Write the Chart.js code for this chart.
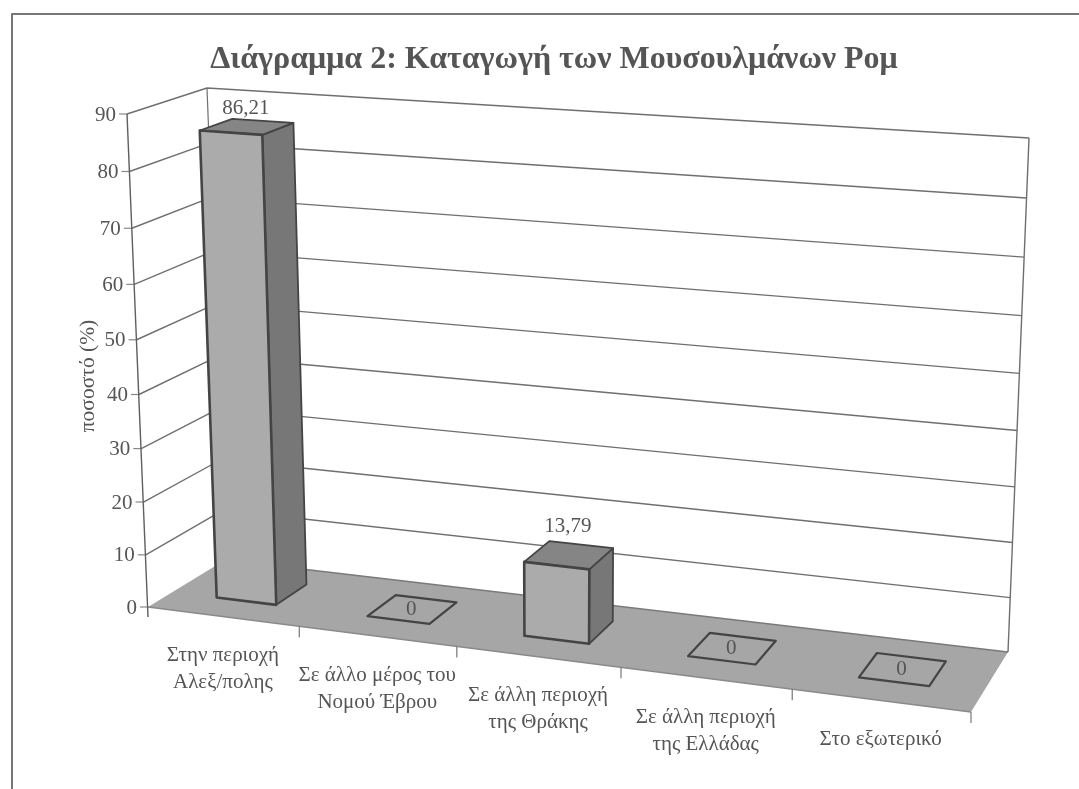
<!DOCTYPE html>
<html lang="el">
<head>
<meta charset="utf-8">
<title>Διάγραμμα 2</title>
<script src="https://cdn.jsdelivr.net/npm/chart.js@4/dist/chart.umd.min.js"></script>
<style>
    html, body { margin: 0; padding: 0; background: #fff; overflow: hidden; }
    canvas { display: block; filter: blur(0.7px); }
</style>
</head>
<body>
<canvas id="chart" width="1079" height="789"></canvas>
<script>
// Chart data
const chartTitle = 'Διάγραμμα 2: Καταγωγή των Μουσουλμάνων Ρομ';
const yAxisTitle = 'ποσοστό (%)';
const categories = [
    ['Στην περιοχή', 'Αλεξ/πολης'],
    ['Σε άλλο μέρος του', 'Νομού Έβρου'],
    ['Σε άλλη περιοχή', 'της Θράκης'],
    ['Σε άλλη περιοχή', 'της Ελλάδας'],
    ['Στο εξωτερικό']
];
const percentages = [86.21, 0, 13.79, 0, 0];
const yMax = 90;
const yStep = 10;

// Box corners on the page, named by [x side][bottom/top][front/back]
const box = {
    lbf: [148, 607], rbf: [971, 712], lbb: [225, 560], rbb: [1008, 652],
    ltf: [127, 114], rtf: [994, 175], ltb: [207, 88], rtb: [1029, 138]
};
const depthFront = 0.32;
const depthBack = 0.74;

const textColor = '#555';
const lineColor = '#6f6f6f';
const darkLine = '#444';
const serif = '"Liberation Serif", serif';
const labelSize = 21;

// Foreshortening of the box along one axis
function warp(a, k) {
    return a / (1 + k * (1 - a));
}

function lerp(p, q, a) {
    return [p[0] + (q[0] - p[0]) * a, p[1] + (q[1] - p[1]) * a];
}

// u, v, z all 0..1 -> page position
function project(u, v, z) {
    const t = warp(u, 0.11);
    const s = warp(v, 0.056);
    const bottomFront = lerp(box.lbf, box.rbf, t);
    const bottomBack = lerp(box.lbb, box.rbb, t);
    const topFront = lerp(box.ltf, box.rtf, t);
    const topBack = lerp(box.ltb, box.rtb, t);
    return lerp(lerp(bottomFront, bottomBack, z), lerp(topFront, topBack, z), s);
}

function poly(ctx, points, fill, stroke, width) {
    ctx.beginPath();
    points.forEach(function(p, i) {
        if (i === 0) ctx.moveTo(p[0], p[1]);
        else ctx.lineTo(p[0], p[1]);
    });
    if (fill) {
        ctx.closePath();
        ctx.fillStyle = fill;
        ctx.fill();
    }
    if (stroke) {
        ctx.strokeStyle = stroke;
        ctx.lineWidth = width;
        ctx.lineJoin = 'round';
        ctx.stroke();
    }
}

function drawText(ctx, text, x, y, size, align) {
    ctx.font = size + 'px ' + serif;
    ctx.fillStyle = textColor;
    ctx.textAlign = align || 'center';
    ctx.textBaseline = 'middle';
    ctx.fillText(text, x, y);
}

const box3d = {
    id: 'box3d',
    beforeDatasetsDraw(chart) {
        const ctx = chart.ctx;
        const area = chart.chartArea;
        const xScale = chart.scales.x;
        const yScale = chart.scales.y;
        const toU = function(px) { return (px - area.left) / area.width; };
        const toV = function(py) { return (area.bottom - py) / area.height; };

        ctx.save();

        // scanned page frame
        poly(ctx, [[12, chart.height], [12, 14], [chart.width, 14]], null, '#777', 2);

        // floor
        poly(ctx, [project(0, 0, 0), project(1, 0, 0), project(1, 0, 1), project(0, 0, 1)], '#a6a6a6', null);
        poly(ctx, [project(0, 0, 0), project(1, 0, 0)], null, '#8a8a8a', 1.5);
        poly(ctx, [project(0, 0, 1), project(1, 0, 1)], null, '#7a7a7a', 1.5);

        // walls and gridlines
        yScale.ticks.forEach(function(tick) {
            const v = toV(yScale.getPixelForValue(tick.value));
            if (tick.value > 0) {
                poly(ctx, [project(0, v, 0), project(0, v, 1), project(1, v, 1)], null, lineColor, 1.4);
            }
            const p = project(0, v, 0);
            poly(ctx, [[p[0] - 8, p[1]], p], null, '#888', 1.2);
            drawText(ctx, String(tick.value), p[0] - 11, p[1] + 1, labelSize, 'right');
        });
        poly(ctx, [project(0, 0, 1), project(0, 1, 1)], null, lineColor, 1.2);
        poly(ctx, [project(1, 0, 1), project(1, 1, 1)], null, lineColor, 1.4);
        const axisFoot = project(0, 0, 0);
        poly(ctx, [[axisFoot[0], axisFoot[1] + 10], project(0, 1, 0)], null, '#5f5f5f', 1.4);

        // category ticks and labels along the front floor edge
        categories.forEach(function(label, i) {
            const tickEnd = project((i + 1) / categories.length, 0, 0);
            poly(ctx, [tickEnd, [tickEnd[0], tickEnd[1] + 11]], null, '#777', 1.2);
            const anchor = project(toU(xScale.getPixelForValue(i)), 0, 0);
            label.forEach(function(line, n) {
                drawText(ctx, line, anchor[0], anchor[1] + 39 + n * 27, labelSize);
            });
        });

        // bars
        chart.getDatasetMeta(0).data.forEach(function(bar, i) {
            const left = toU(bar.x - bar.width / 2);
            const right = toU(bar.x + bar.width / 2);
            const top = toV(bar.y);
            const base = toV(bar.base);
            const value = percentages[i];
            const topFace = [
                project(left, top, depthFront), project(right, top, depthFront),
                project(right, top, depthBack), project(left, top, depthBack)
            ];
            if (value > 0) {
                poly(ctx, [project(right, base, depthFront), project(right, base, depthBack),
                    project(right, top, depthBack), project(right, top, depthFront)], '#777', darkLine, 1.8);
                poly(ctx, topFace, '#858585', darkLine, 1.8);
                poly(ctx, [project(left, base, depthFront), project(right, base, depthFront),
                    project(right, top, depthFront), project(left, top, depthFront)], '#ababab', darkLine, 2.6);
            } else {
                poly(ctx, topFace, '#a6a6a6', darkLine, 2.2);
            }
            const c = project((left + right) / 2, top, (depthFront + depthBack) / 2);
            const text = String(value).replace('.', ',');
            // value labels sit closer to the bar the higher it reaches
            drawText(ctx, text, c[0] - 1, value > 0 ? c[1] - 31 + 13.5 * top : c[1], labelSize);
        });

        // y axis title
        ctx.translate(88, 376);
        ctx.rotate(-Math.PI / 2);
        drawText(ctx, yAxisTitle, 0, 0, 21.5);

        ctx.restore();
        return false;
    }
};

new Chart(document.getElementById('chart'), {
    type: 'bar',
    data: {
        labels: categories,
        datasets: [{
            data: percentages,
            backgroundColor: '#ababab',
            barPercentage: 0.4,
            categoryPercentage: 1
        }]
    },
    options: {
        responsive: false,
        animation: false,
        layout: { padding: { left: 29 } },
        plugins: {
            legend: { display: false },
            tooltip: { enabled: false },
            title: {
                display: true,
                text: chartTitle,
                color: textColor,
                font: { family: serif, size: 32, weight: 'bold' },
                padding: { top: 41, bottom: 10 }
            }
        },
        scales: {
            x: { display: false },
            y: { display: false, min: 0, max: yMax, ticks: { stepSize: yStep } }
        }
    },
    plugins: [box3d]
});
</script>
</body>
</html>
